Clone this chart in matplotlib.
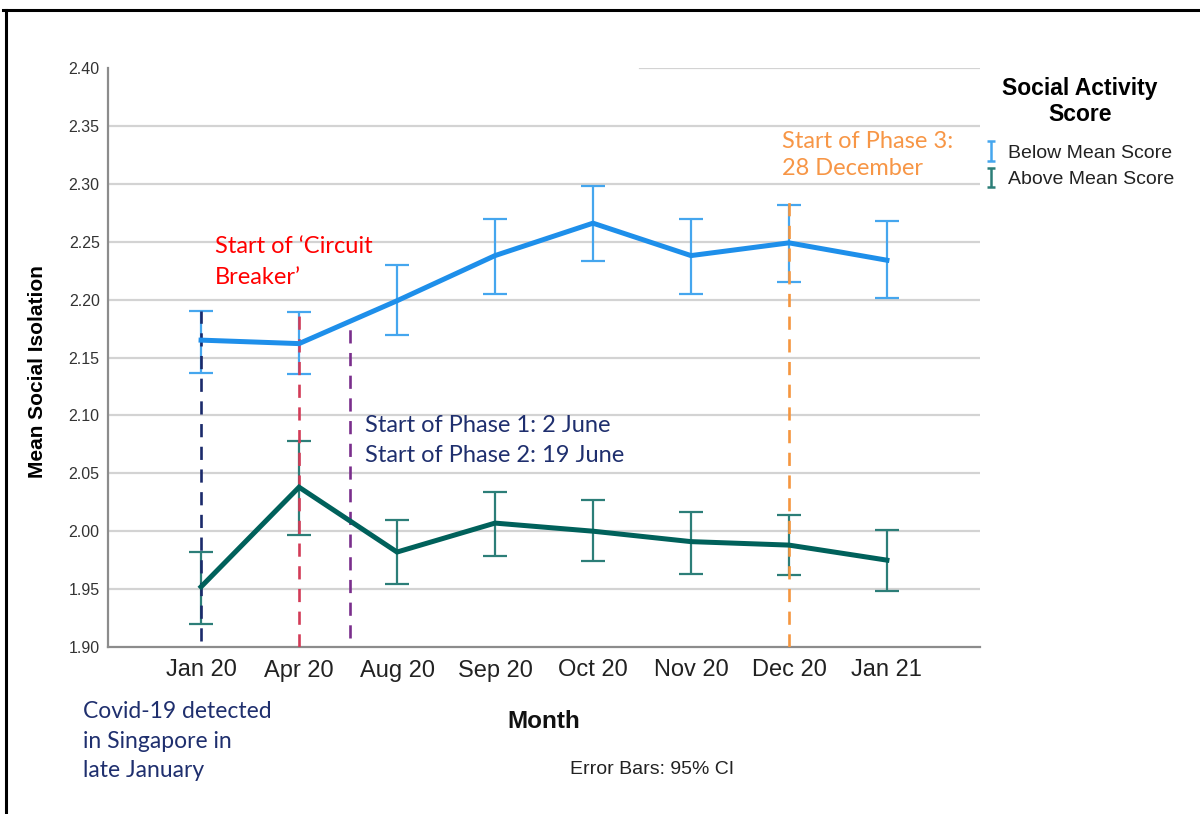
import matplotlib
matplotlib.use("Agg")
import matplotlib.pyplot as plt
from matplotlib.lines import Line2D
import numpy as np

# ---------------- data ----------------
months = ["Jan 20", "Apr 20", "Aug 20", "Sep 20", "Oct 20", "Nov 20", "Dec 20", "Jan 21"]

below_mean = [2.165, 2.162, 2.199, 2.238, 2.266, 2.238, 2.249, 2.234]
below_upper = [2.190, 2.189, 2.230, 2.270, 2.298, 2.270, 2.282, 2.268]
below_lower = [2.137, 2.136, 2.169, 2.205, 2.233, 2.205, 2.215, 2.201]

above_mean = [1.952, 2.038, 1.982, 2.007, 2.000, 1.991, 1.988, 1.975]
above_upper = [1.982, 2.078, 2.010, 2.034, 2.027, 2.017, 2.014, 2.001]
above_lower = [1.920, 1.997, 1.954, 1.979, 1.974, 1.963, 1.962, 1.948]

series_labels = ["Below Mean Score", "Above Mean Score"]
legend_title = "Social Activity\nScore"

# event markers: (x position in category units, y bottom, y top)
event_x = [0.0, 1.0, 1.52, 6.0]
event_ybot = [1.905, 1.900, 1.908, 1.900]
event_ytop = [2.190, 2.190, 2.183, 2.288]
event_colors = ["#1B2A6B", "#D23B57", "#7A2E8C", "#F5963F"]

yticks = [1.90, 1.95, 2.00, 2.05, 2.10, 2.15, 2.20, 2.25, 2.30, 2.35, 2.40]

# ---------------- figure ----------------
W, H = 1200, 814
fig = plt.figure(figsize=(W / 100, H / 100), dpi=100)
ax = fig.add_axes([108 / W, 1 - 647 / H, (980 - 108) / W, (647 - 68) / H])

x = list(range(len(months)))
blue_line, blue_err = "#1E8FEA", "#45A6EE"
green_line, green_err = "#00615B", "#2C7E78"

ax.set_xlim(-0.95, 7.95)
ax.set_ylim(1.90, 2.40)

# grid
for t in yticks[1:-1]:
    ax.axhline(t, color="#D3D3D3", lw=1.6, zorder=0)
ax.axhline(2.40, xmin=0.61, xmax=1.0, color="#D3D3D3", lw=1.6, zorder=0)

# error bars
def yerr(mean, lo, hi):
    return [[m - l for m, l in zip(mean, lo)], [h - m for m, h in zip(mean, hi)]]

ax.errorbar(x, below_mean, yerr=yerr(below_mean, below_lower, below_upper), fmt="none",
            ecolor=blue_err, elinewidth=1.6, capsize=8.5, capthick=1.6, zorder=2)
ax.errorbar(x, above_mean, yerr=yerr(above_mean, above_lower, above_upper), fmt="none",
            ecolor=green_err, elinewidth=1.6, capsize=8.5, capthick=1.6, zorder=2)

# legend proxies (small I-shaped error bars, no data drawn)
p1 = ax.errorbar([np.nan], [np.nan], yerr=[[0.01], [0.01]], fmt="none", ecolor=blue_err,
                 elinewidth=1.8, capsize=3.2, capthick=1.8)
p2 = ax.errorbar([np.nan], [np.nan], yerr=[[0.01], [0.01]], fmt="none", ecolor=green_err,
                 elinewidth=1.8, capsize=3.2, capthick=1.8)

# event lines
for ex, yb, yt, c in zip(event_x, event_ybot, event_ytop, event_colors):
    ax.plot([ex, ex], [yb, yt], color=c, lw=1.9, dashes=(5, 3.6), zorder=3)

# mean lines
ax.plot(x, below_mean, color=blue_line, lw=3.6, zorder=4, solid_joinstyle="miter")
ax.plot(x, above_mean, color=green_line, lw=3.6, zorder=4, solid_joinstyle="miter")

# axes styling
for s in ["top", "right"]:
    ax.spines[s].set_visible(False)
for s in ["left", "bottom"]:
    ax.spines[s].set_color("#8C8C8C")
    ax.spines[s].set_linewidth(1.6)
ax.set_xticks(x)
ax.set_xticklabels(months, fontfamily="Liberation Sans", fontsize=17, color="#222222")
ax.set_yticks(yticks)
ax.set_yticklabels([f"{t:.2f}" for t in yticks], fontfamily="Liberation Sans", fontsize=11.5,
                   color="#333333")
ax.tick_params(axis="both", length=0)
ax.tick_params(axis="y", pad=6)
ax.tick_params(axis="x", pad=9)

ax.set_ylabel("Mean Social Isolation", fontfamily="Liberation Sans", fontweight="bold",
              fontsize=15)
ax.yaxis.set_label_coords((47 - 108) / 872, (647 - 372) / 579)

# annotations (Calibri-like font)
afont = "Lato"
ax.text(0.143, 2.2323, "Start of \u2018Circuit\nBreaker\u2019", color="#FF0000", fontsize=17,
        fontfamily=afont, va="center", ha="left", linespacing=1.6, zorder=5)
ax.text(1.673, 2.0784, "Start of Phase 1: 2 June\nStart of Phase 2: 19 June", color="#1F2F6E",
        fontsize=17, fontfamily=afont, va="center", ha="left", linespacing=1.55, zorder=5)
ax.text(5.93, 2.325, "Start of Phase 3:\n28 December", color="#F79646", fontsize=17,
        fontfamily=afont, va="center", ha="left", linespacing=1.38, zorder=5)
fig.text(83 / W, 1 - 741 / H, "Covid-19 detected\nin Singapore in\nlate January", color="#1F2F6E",
         fontsize=16.5, fontfamily=afont, va="center", ha="left", linespacing=1.5)

fig.text(544 / W, 1 - 721 / H, "Month", fontfamily="Liberation Sans", fontweight="bold",
         fontsize=17.5, ha="center", va="center", color="#111111")
fig.text(652 / W, 1 - 770 / H, "Error Bars: 95% CI", fontfamily="Liberation Sans",
         fontsize=14, ha="center", va="center", color="#222222")

# legend
leg = fig.legend(handles=[p1, p2], labels=series_labels, title=legend_title,
                 loc="upper center", bbox_to_anchor=(1080 / W, 1 - 63 / H), frameon=False,
                 prop={"family": "Liberation Sans", "size": 14},
                 title_fontproperties={"family": "Liberation Sans", "weight": "bold", "size": 16.5},
                 handlelength=0.5, handletextpad=0.6, labelspacing=0.45, borderpad=0.2)
leg.get_title().set_multialignment("center")
leg._legend_box.sep = 13
for t in leg.get_texts():
    t.set_color("#222222")

# outer frame lines
fig.add_artist(Line2D([3 / W, 1.0], [1 - 10 / H, 1 - 10 / H], color="black", lw=2.2,
                      transform=fig.transFigure))
fig.add_artist(Line2D([6 / W, 6 / W], [1 - 10 / H, 0.0], color="black", lw=2.2,
                      transform=fig.transFigure))

fig.savefig("out.png", dpi=100)
